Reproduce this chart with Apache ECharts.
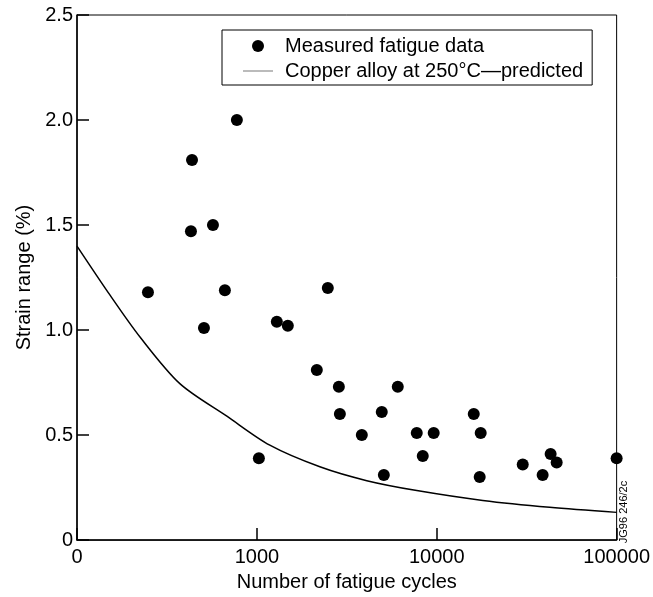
<!DOCTYPE html>
<html>
<head>
<meta charset="utf-8">
<script src="https://cdn.jsdelivr.net/npm/echarts@6/dist/echarts.min.js"></script>
<style>html,body{margin:0;padding:0;background:#fff}#c{width:653px;height:597px}</style>
</head>
<body>
<div id="c"></div>
<script>
var measuredCycles = [248, 436, 774, 430, 570, 664, 508, 2479, 1291, 1486, 2154, 1026, 2856, 2893, 6072, 4947, 3831, 7743, 9617, 8360, 5080, 16060, 17550, 17330, 30060, 42950, 46420, 38790, 100000];
var measuredStrain = [1.18, 1.81, 2.0, 1.47, 1.50, 1.19, 1.01, 1.20, 1.04, 1.02, 0.81, 0.39, 0.73, 0.60, 0.73, 0.61, 0.50, 0.51, 0.51, 0.40, 0.31, 0.60, 0.51, 0.30, 0.36, 0.41, 0.37, 0.31, 0.39];
var curveCycles = [100, 153, 224, 373, 681, 1180, 2239, 4084, 7743, 18030, 42450, 100000];
var curveStrain = [1.40, 1.165, 0.967, 0.745, 0.59, 0.452, 0.349, 0.283, 0.236, 0.189, 0.156, 0.132];
var yTicks = ['0', '0.5', '1.0', '1.5', '2.0', '2.5'];
var seriesNames = ['Measured fatigue data', 'Copper alloy at 250\u00b0C\u2014predicted'];

var FONT = "'Liberation Sans', Arial, Helvetica, sans-serif";
var chart = echarts.init(document.getElementById('c'));
chart.setOption({
  animation: false,
  backgroundColor: '#fff',
  textStyle: {fontFamily: FONT},
  grid: {left: 77, right: 36, top: 15, bottom: 52, show: true, borderColor: '#000', borderWidth: 1},
  legend: {
    orient: 'vertical', left: 222, top: 30,
    padding: [6, 9, 4, 21],
    borderColor: '#000', borderWidth: 1, backgroundColor: '#fff',
    itemWidth: 30, itemHeight: 12, itemGap: 5,
    textStyle: {fontSize: 20, color: '#000', fontFamily: FONT, lineHeight: 20, padding: [0, 0, 0, 7]},
    data: [
      {name: seriesNames[0], icon: 'circle', itemStyle: {color: '#000', opacity: 1}},
      {name: seriesNames[1], icon: 'path://M0,0H30V1H0Z', itemStyle: {color: '#777', opacity: 1, borderWidth: 0}}
    ]
  },
  xAxis: {
    type: 'log', logBase: 10, min: 100, max: 100000, splitNumber: 3,
    name: 'Number of fatigue cycles', nameLocation: 'middle', nameGap: 24,
    nameTextStyle: {fontSize: 20, color: '#000', fontFamily: FONT},
    axisLine: {lineStyle: {color: '#000', width: 1.5}},
    axisTick: {inside: true, length: 12, lineStyle: {color: '#000', width: 1.5}},
    minorTick: {show: false},
    splitLine: {show: false},
    axisLabel: {fontSize: 20, color: '#000', margin: 7, fontFamily: FONT,
      formatter: function (v) { return v <= 100 ? '0' : String(Math.round(v)); }}
  },
  yAxis: {
    type: 'value', min: 0, max: 2.5, interval: 0.5,
    name: 'Strain range (%)', nameLocation: 'middle', nameGap: 31,
    nameTextStyle: {fontSize: 20, color: '#000', fontFamily: FONT},
    axisLine: {show: true, lineStyle: {color: '#000', width: 1.5}},
    axisTick: {show: true, inside: true, length: 12, lineStyle: {color: '#000', width: 1.5}},
    splitLine: {show: false},
    axisLabel: {fontSize: 20, color: '#000', margin: 4, fontFamily: FONT,
      formatter: function (v) { return yTicks[Math.round(v / 0.5)]; }}
  },
  series: [
    {
      name: seriesNames[0], type: 'scatter', symbol: 'circle', symbolSize: 12, clip: false,
      itemStyle: {color: '#000', opacity: 1},
      data: measuredCycles.map(function (c, i) { return [c, measuredStrain[i]]; })
    },
    {
      name: seriesNames[1], type: 'line', symbol: 'none', smooth: 0.3,
      itemStyle: {color: '#000'},
      lineStyle: {color: '#000', width: 1.5},
      data: curveCycles.map(function (c, i) { return [c, curveStrain[i]]; })
    }
  ],
  graphic: [{
    type: 'text', x: 624, y: 512, rotation: Math.PI / 2,
    style: {text: 'JG96 246/2c', fontSize: 11, fill: '#000', fontFamily: FONT, align: 'center', verticalAlign: 'middle'}
  }]
});
</script>
</body>
</html>
